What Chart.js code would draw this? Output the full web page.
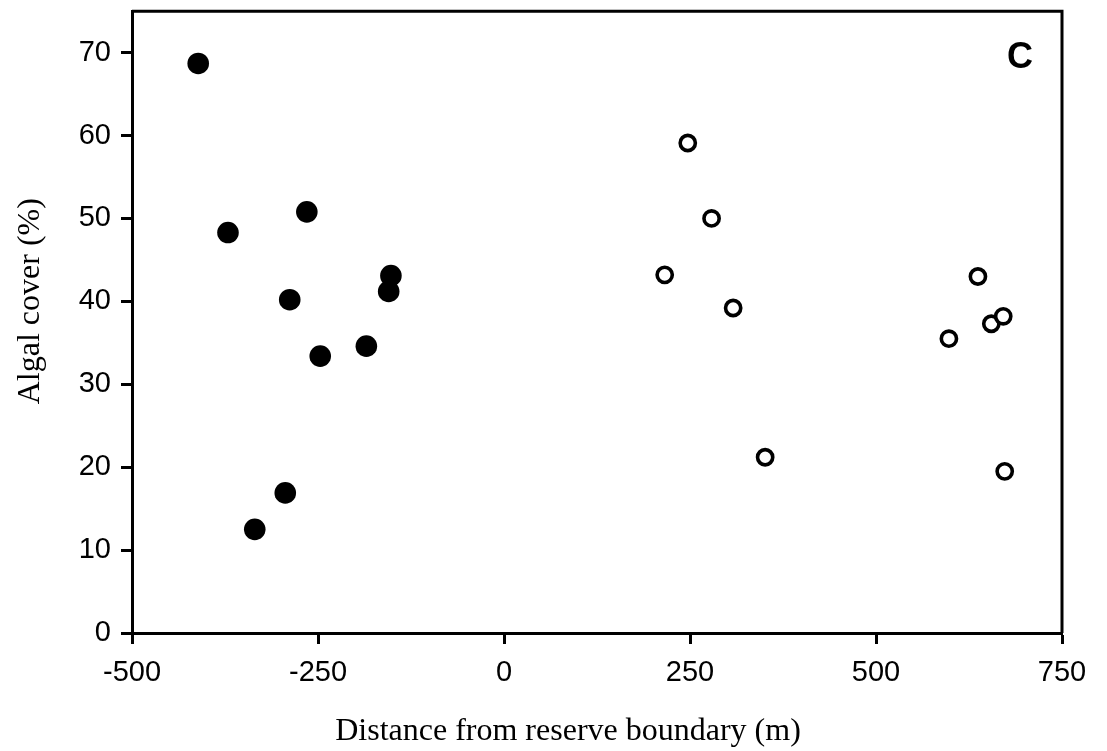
<!DOCTYPE html>
<html>
<head>
<meta charset="utf-8">
<script src="https://cdn.jsdelivr.net/npm/chart.js@4.4.1/dist/chart.umd.min.js"></script>
<style>
  html, body { margin: 0; padding: 0; background: #fff; }
  #wrap { width: 1107px; height: 751px; }
</style>
</head>
<body>
<div id="wrap"><canvas id="algae"></canvas></div>
<script>
// sites inside the reserve (negative distance) and outside it
var inside_x = [-411, -371, -265, -288, -247, -185, -152, -155, -294, -335];
var inside_y = [68.7, 48.3, 50.8, 40.2, 33.4, 34.6, 43.1, 41.2, 16.9, 12.5];
var outside_x = [247, 279, 216, 308, 351, 598, 637, 655, 671, 673];
var outside_y = [59.1, 50.0, 43.2, 39.2, 21.2, 35.5, 43.0, 37.3, 38.2, 19.5];

var x_ticks = [-500, -250, 0, 250, 500, 750];
var y_ticks = [0, 10, 20, 30, 40, 50, 60, 70];

var x_title = 'Distance from reserve boundary (m)';
var y_title = 'Algal cover (%)';
var panel = 'C';

function pts(xs, ys) {
    var out = [];
    for (var i = 0; i < xs.length; i++) out.push({x: xs[i], y: ys[i]});
    return out;
}

var tickFont = {family: "'Liberation Sans', Arial, sans-serif", size: 29};
var titleFont = "32px 'Liberation Serif', 'DejaVu Serif', serif";

// frame round the plot, axis titles and the panel letter
var framePlugin = {
    id: 'frame',
    afterDraw: function (chart) {
        var a = chart.chartArea, c = chart.ctx;
        c.save();
        c.strokeStyle = '#000';
        c.lineWidth = 3;
        c.beginPath();
        c.moveTo(a.left, a.top);
        c.lineTo(a.right, a.top);
        c.lineTo(a.right, a.bottom);
        c.stroke();
        c.fillStyle = '#000';
        c.font = "bold 36px 'Liberation Sans', Arial, sans-serif";
        c.textAlign = 'center';
        c.textBaseline = 'middle';
        c.fillText(panel, a.right - 42, a.top + 47);

        c.font = titleFont;
        c.textBaseline = 'alphabetic';
        c.fillText(x_title, a.left + 436, a.bottom + 107);
        c.translate(a.left - 93, a.top + 290);
        c.rotate(-Math.PI / 2);
        c.fillText(y_title, 0, 0);
        c.restore();
    }
};

function noPad(s) {
    s.paddingTop = 0; s.paddingBottom = 0;
    s.paddingLeft = 0; s.paddingRight = 0;
}

new Chart(document.getElementById('algae'), {
    type: 'scatter',
    data: {
        datasets: [{
            data: pts(inside_x, inside_y),
            pointRadius: 10.8,
            pointBackgroundColor: '#000',
            pointBorderWidth: 0,
            clip: false
        }, {
            data: pts(outside_x, outside_y),
            pointRadius: 7.6,
            pointBackgroundColor: '#fff',
            pointBorderColor: '#000',
            pointBorderWidth: 3.6,
            clip: false
        }]
    },
    options: {
        responsive: true,
        maintainAspectRatio: false,
        animation: false,
        layout: {padding: {top: 10, right: 45, left: 0, bottom: 0}},
        plugins: {legend: {display: false}, tooltip: {enabled: false}},
        scales: {
            x: {
                type: 'linear',
                min: -500,
                max: 750,
                afterBuildTicks: function (s) { s.ticks = x_ticks.map(function (v) { return {value: v}; }); },
                afterFit: function (s) { s.height = 118; noPad(s); },
                border: {color: '#000', width: 3},
                grid: {drawOnChartArea: false, color: '#000', tickLength: 11, tickWidth: 3},
                ticks: {color: '#000', font: tickFont, padding: 12, maxRotation: 0}
            },
            y: {
                min: 0,
                max: 75,
                afterBuildTicks: function (s) { s.ticks = y_ticks.map(function (v) { return {value: v}; }); },
                afterFit: function (s) { s.width = 132; noPad(s); },
                border: {color: '#000', width: 3},
                grid: {drawOnChartArea: false, color: '#000', tickLength: 11, tickWidth: 3},
                ticks: {color: '#000', font: tickFont, padding: 10}
            }
        }
    },
    plugins: [framePlugin]
});
</script>
</body>
</html>
